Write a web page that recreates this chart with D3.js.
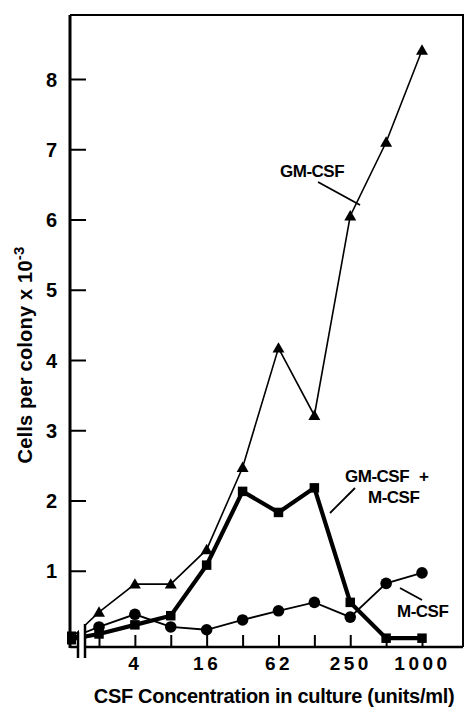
<!DOCTYPE html>
<html><head><meta charset="utf-8">
<script src="https://cdn.jsdelivr.net/npm/d3@7"></script>
<style>body{margin:0;background:#fff}</style>
</head><body>
<svg id="c" width="466" height="709"></svg>
<script>
const concentrations = [1.95, 3.9, 7.8, 15.6, 31.25, 62.5, 125, 250, 500, 1000];
const gmCsf   = [0.41, 0.81, 0.81, 1.30, 2.47, 4.17, 3.21, 6.05, 7.10, 8.41];
const gmMCsf  = [0.10, 0.23, 0.36, 1.08, 2.13, 1.83, 2.18, 0.55, 0.04, 0.04];
const mCsf    = [0.20, 0.38, 0.20, 0.16, 0.30, 0.43, 0.55, 0.34, 0.82, 0.97];
const controlValues = {gm: 0.05, gmm: 0.03, m: 0.05};
const xTickValues = [1.95, 3.9, 7.8, 15.6, 31.25, 62.5, 125, 250, 500, 1000];
const xTickLabels = ["", "4", "", "16", "", "62", "", "250", "", "1000"];
const yTickValues = [1, 2, 3, 4, 5, 6, 7, 8];

const svg = d3.select("#c");
const L = 70, R = 463, T = 15, B = 647;
const x = d3.scaleLog().domain([1.95, 1000]).range([99, 422]);
const y = d3.scaleLinear().domain([0, 8]).range([641, 79]);
const xCtrl = 72;
const font = "'Liberation Sans', Arial, Helvetica, sans-serif";

// frame top and right
svg.append("path").attr("d", `M${L},${T}H${R}V${B}`).attr("fill","none").attr("stroke","#000").attr("stroke-width",2);
// y axis
svg.append("line").attr("x1",L).attr("x2",L).attr("y1",T).attr("y2",B+1).attr("stroke","#000").attr("stroke-width",3);
// bottom axis (after break)
svg.append("line").attr("x1",85).attr("x2",R).attr("y1",B).attr("y2",B).attr("stroke","#000").attr("stroke-width",2.5);
svg.append("line").attr("x1",L).attr("x2",78).attr("y1",B).attr("y2",B).attr("stroke","#000").attr("stroke-width",2.5);

// y ticks
const yAxis = d3.axisLeft(y).tickValues(yTickValues).tickSize(-16).tickPadding(13).tickFormat(d3.format("d"));
const gy = svg.append("g").attr("transform",`translate(${L},0)`).call(yAxis);
gy.select(".domain").remove();
gy.selectAll(".tick line").attr("stroke","#000").attr("stroke-width",2);
gy.selectAll(".tick text").attr("font-family",font).attr("font-weight","bold").attr("font-size",20).attr("fill","#000").attr("dy","0.36em");

// x ticks
const xAxis = d3.axisBottom(x).tickValues(xTickValues).tickSize(-12).tickPadding(16).tickFormat((d,i)=>xTickLabels[i]);
const gx = svg.append("g").attr("transform",`translate(0,${B})`).call(xAxis);
gx.select(".domain").remove();
gx.selectAll(".tick line").attr("stroke","#000").attr("stroke-width",2);
gx.selectAll(".tick text").attr("font-family",font).attr("font-weight","bold").attr("font-size",19).attr("fill","#000").attr("letter-spacing","3.5px").attr("dy","0.35em");

// series lines
const line = d3.line().x(d=>d[0]).y(d=>d[1]);
function pts(vals, c0){ return [[xCtrl, y(c0)]].concat(vals.map((v,i)=>[x(concentrations[i]), y(v)])); }
svg.append("path").attr("d", line(pts(mCsf, controlValues.m))).attr("fill","none").attr("stroke","#000").attr("stroke-width",1.8);
svg.append("path").attr("d", line(pts(gmCsf, controlValues.gm))).attr("fill","none").attr("stroke","#000").attr("stroke-width",1.6);
svg.append("path").attr("d", line(pts(gmMCsf, controlValues.gmm))).attr("fill","none").attr("stroke","#000").attr("stroke-width",4.2).attr("stroke-linejoin","miter");

// markers
const tri = d3.symbol().type(d3.symbolTriangle).size(62);
const sq = d3.symbol().type(d3.symbolSquare).size(90);
svg.append("g").selectAll("path").data(gmCsf).join("path").attr("d",tri)
  .attr("transform",(d,i)=>`translate(${x(concentrations[i])},${y(d)+1})`).attr("fill","#000");
svg.append("g").selectAll("path").data(gmMCsf).join("path").attr("d",sq)
  .attr("transform",(d,i)=>`translate(${x(concentrations[i])},${y(d)})`).attr("fill","#000");
svg.append("g").selectAll("circle").data(mCsf).join("circle")
  .attr("cx",(d,i)=>x(concentrations[i])).attr("cy",d=>y(d)).attr("r",5.8).attr("fill","#000");
// control blob
svg.append("rect").attr("x",L-3).attr("y",y(controlValues.gm)-6).attr("width",9).attr("height",13).attr("fill","#000");

// axis break
svg.append("rect").attr("x",79).attr("y",618).attr("width",5).attr("height",42).attr("fill","#fff");
svg.append("line").attr("x1",78).attr("x2",78).attr("y1",632).attr("y2",658).attr("stroke","#000").attr("stroke-width",2.5);
svg.append("line").attr("x1",85).attr("x2",85).attr("y1",624).attr("y2",658).attr("stroke","#000").attr("stroke-width",2.5);

// annotations
function label(txt, tx, ty){ svg.append("text").attr("x",tx).attr("y",ty).text(txt).attr("font-family",font).attr("font-weight","bold").attr("font-size",17).attr("letter-spacing","-0.5px").attr("fill","#000"); }
label("GM-CSF", 280, 177);
svg.append("line").attr("x1",318).attr("y1",182).attr("x2",360).attr("y2",205).attr("stroke","#000").attr("stroke-width",1.8);
label("GM-CSF", 345, 482);
label("+", 419, 482);
label("M-CSF", 368, 503);
svg.append("line").attr("x1",355).attr("y1",488).attr("x2",330).attr("y2",513).attr("stroke","#000").attr("stroke-width",1.8);
label("M-CSF", 397, 617);
svg.append("line").attr("x1",400).attr("y1",588).attr("x2",422).attr("y2",600).attr("stroke","#000").attr("stroke-width",1.8);

// axis titles
svg.append("text").attr("x",274).attr("y",703).attr("text-anchor","middle").attr("font-family",font).attr("font-size",20).attr("font-weight","bold").attr("letter-spacing","-0.3px").attr("fill","#000")
  .text("CSF Concentration in culture (units/ml)");
const yt = svg.append("text").attr("transform","translate(32,355) rotate(-90)").attr("text-anchor","middle").attr("font-family",font).attr("font-size",20).attr("font-weight","bold").attr("letter-spacing","0.2px").attr("fill","#000");
yt.append("tspan").text("Cells per colony x 10");
yt.append("tspan").attr("dy",-8).attr("font-size",15).text("-3");
</script>
</body></html>
